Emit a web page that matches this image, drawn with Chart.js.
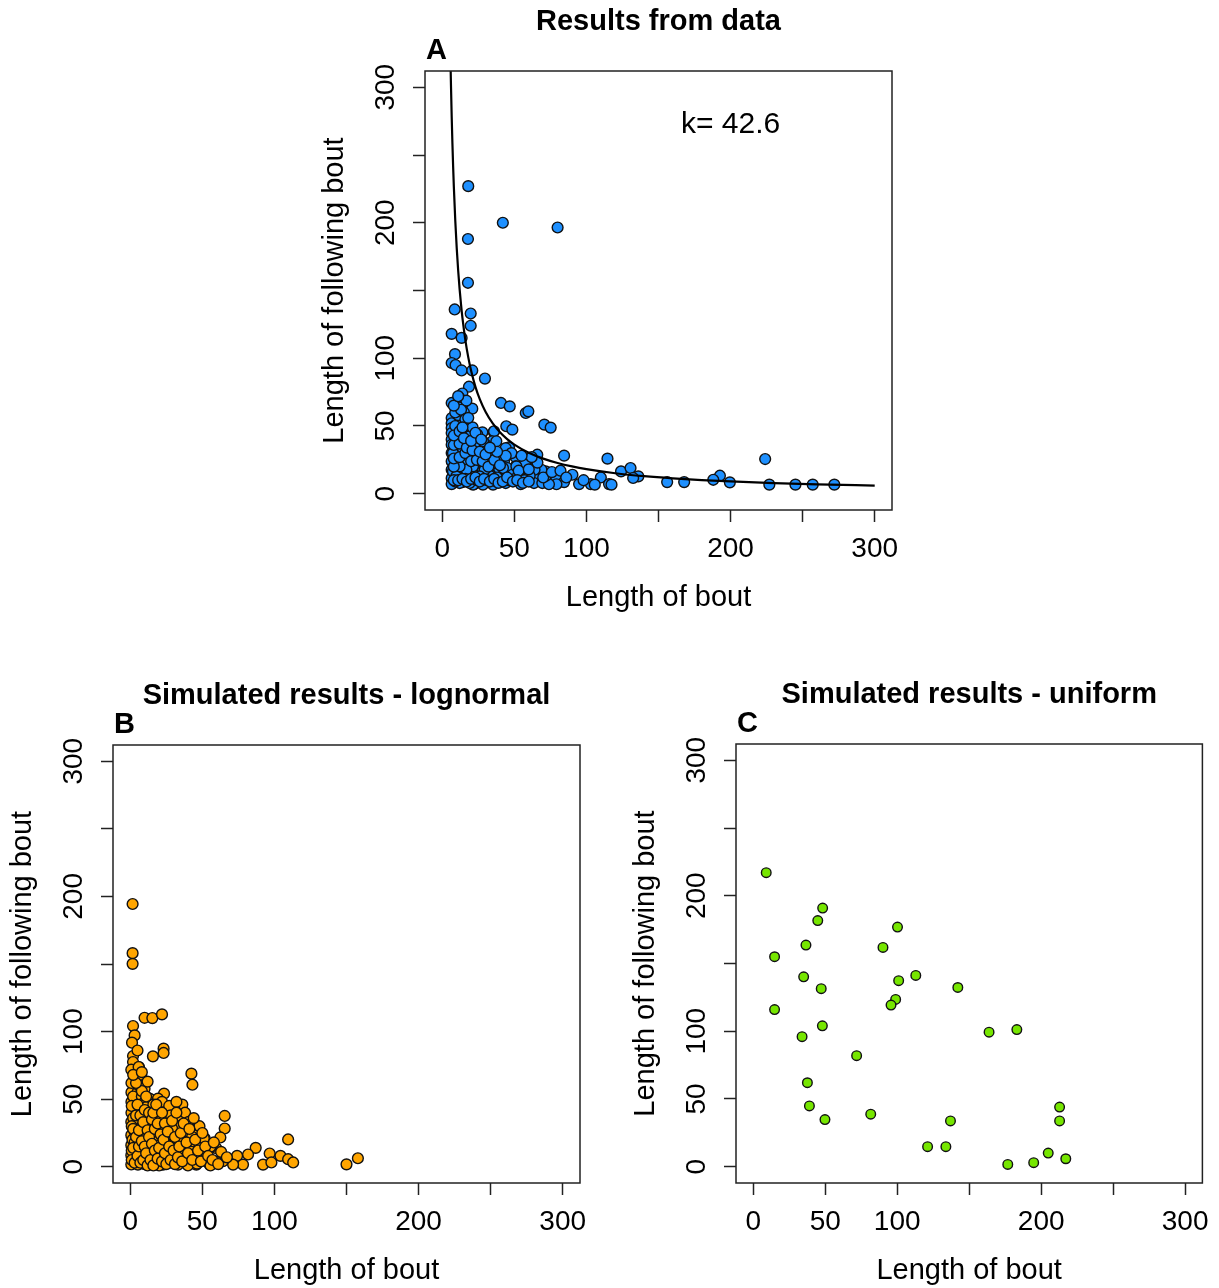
<!DOCTYPE html>
<html>
<head>
<meta charset="utf-8">
<script src="https://cdn.jsdelivr.net/npm/chart.js@4/dist/chart.umd.min.js"></script>
<style>
  html, body { margin: 0; padding: 0; background: #fff; }
  #page { position: relative; width: 1219px; height: 1288px; background: #fff; overflow: hidden; }
  canvas { position: absolute; }
</style>
</head>
<body>
<div id="page">
  <canvas id="panelA" width="640" height="640" style="left:300px;top:0px"></canvas>
  <canvas id="panelB" width="620" height="628" style="left:0px;top:660px"></canvas>
  <canvas id="panelC" width="599" height="628" style="left:620px;top:660px"></canvas>
</div>
<script>
// ---- axis ticks shared by the three panels ----
const tickValues = [0, 50, 100, 150, 200, 250, 300];
const tickText   = ['0', '50', '100', '', '200', '', '300'];
const xTitle = 'Length of bout';
const yTitle = 'Length of following bout';

// ---- panel A: observed bouts (length, length of following bout) ----
const observedPairs = [
  [18,227],[42,200],[80,196.5],[17.8,188],[17.8,155.7],[8.6,136],[19.7,133],[19.7,124],[6.5,118],[13.4,115],
  [8.8,103],[6.5,96.5],[9.2,95],[13.4,91],[20.8,91],[29.6,85],[18.5,79],[13.9,74],[12,70.7],[16.2,68.2],
  [6.5,67],[11.6,63.6],[20.8,62.8],[8.8,57.6],[12.7,54.7],[13.4,53.4],[6.5,55.9],[6.5,52],[6.5,48.5],[6.5,44.8],
  [6.5,40],[6.5,36.2],[6.5,30],[6.5,23.9],[6.5,17.7],[6.5,11.5],[6.5,7.1],[18,47.3],[13.9,47.3],[24.1,43.6],
  [27.8,45.3],[35.6,45.6],[35.9,46.1],[34.7,38.7],[10.9,39.9],[13.4,41.1],[18.5,42.4],[24.3,43.6],[19.6,36.2],[25.4,33.7],
  [30.1,36.2],[24.8,33.7],[40.7,67],[46.8,64.5],[57.9,59.6],[59.7,60.8],[44.4,49.8],[48.6,47.3],[70.8,51],[75.2,48.8],
  [46.3,34.2],[44,33.7],[32.4,28.8],[27.8,28.8],[22.7,27.5],[15,26.3],[10.4,31.2],[10.4,23.9],[15,21.4],[19.6,20.2],
  [24.3,21.4],[30.1,22.7],[35.9,20.9],[42.8,23.9],[50.9,26.9],[57.4,22.7],[65.9,28.8],[84.5,28.1],[114.6,25.9],[64.8,20.2],
  [50.9,20.2],[45.1,19],[39.3,16.5],[33.5,14],[27.8,16.5],[22,14],[16.2,15.3],[10.4,14],[13.9,8.6],[22,7.1],
  [27.8,7.9],[35.9,7.9],[44,7.9],[48.6,14],[55.5,14],[61.3,14],[67.1,12.8],[71.7,16.5],[78.7,12.8],[84.5,8.6],
  [90.3,14],[94.9,7.1],[103,7.1],[110,12],[115.7,7.1],[54.4,7.1],[63.6,7.9],[69.4,7.9],[124,16.5],[130.6,19],
  [136,12.8],[132.4,11.6],[224,25.6],[192.6,13.3],[188,10.3],[199.5,8.4],[156,8.6],[167.8,8.6],[226.9,6.7],[245,6.7],
  [257,6.7],[272,6.7],[117.4,6.7],[105.8,6.7],[79.2,7],[74,7],[72,13.3],[68.8,17.7],[64,17.7],[60.6,13.3],
  [52.5,13.3],[43.3,13.3],[32.9,13.3],[51.4,20.2],[42.1,19],[29.4,17.7],[25.9,25.1],[20.1,27.6],[32.9,27.6],[30.6,32.5],
  [37.5,38.7],[28.2,38.7],[19,42.4],[14.4,32.5],[7.4,30],[14.4,23.9],[7.4,16.5],[12,7.9],[21.3,6.7],[28.2,6.7],
  [35.2,6.7],[37.5,9.1],[9.7,12.8],[21.3,20.2],[16.7,17.7],[12,20.2],[25.9,12.8],[19,7.9],[9,9],[16,11],
  [24,10],[31,10],[41,11],[8,20],[10,45],[9,50],[11,58],[15,60],[16.7,68.7],[16,50],
  [21,49],[23,38],[40,25],[48,30],[53,17],[57,10],[46,10],[38,12],
  [8,10],[11,10],[14,11],[17,9],[20,11],[23,12],[26,9],[29,11],[33,9],[36,11],
  [39,8],[42,9],[45,12],[49,9],[52,10],[56,8],[60,9],[8,26],[12,27],[16,30],
  [20,24],[24,25],[28,24],[32,20],[36,25],[40,21],[44,28],[8,36],[12,37],[17,34],
  [21,32],[26,31],[30,29],[8,43],[12,46],[15,41],[20,39],[23,45],[9,60],[13,62],
  [16,55],[8,65],[11,72],[14,49],[18,56],[60,18],[66,23],[70,12],[76,16],[82,17],
  [86,12],[98,10],[62,27],[55,28],[38,31],[33,34],[27,40]
];

// fitted curve: following = k^2 / bout, with k as printed on the panel
const fitK = 42.6;
const curveBout = [5.5, 5.8, 6, 6.5, 7, 7.5, 8, 9, 10, 11, 12, 13, 14, 16, 18, 20, 23, 26, 30, 35, 40, 45,
                   50, 60, 70, 80, 90, 100, 120, 140, 160, 180, 200, 230, 260, 300];

// ---- panel B: simulated bouts, lognormal ----
const lognormalPairs = [
  [1.6,194.4],[1.6,158],[1.6,150.1],[9.9,110.2],[15.3,110],[22,112.7],[1.9,104.1],[3,97.2],[1.2,91.8],[23.1,87.4],
  [23.1,84.2],[15.7,81.7],[1.9,81.9],[1.9,77.5],[0.7,71.8],[6,73.8],[3,65.2],[7.6,65.9],[9.9,61],[42.4,68.9],
  [43.1,60.7],[5.8,73.8],[3,58.3],[9.9,57.8],[23.4,54.1],[13.4,50.4],[19.2,50.4],[36.1,46],[30.8,41.9],[25,40.6],
  [14.6,43.1],[3,40.6],[6.5,35.7],[12.3,36.9],[18.1,32],[25,34.5],[33.1,35.7],[65.5,37.6],[65.5,28.3],[40.7,33.2],
  [43.1,28.3],[62.5,21.7],[51.6,21],[45.8,23.4],[109.5,20.2],[87,14],[96.7,9.8],[104.2,8.1],[109.5,5.6],[113,3.2],
  [92.1,1.6],[97.9,3.2],[81.7,9.1],[74.1,8.1],[78.2,1.6],[71.3,1.6],[64.3,4.1],[150,1.8],[157.9,6.3],[59.7,13.7],
  [56.3,14.8],[50.5,7.4],[43.5,16],[37.7,14.8],[31.9,11.1],[25,13.5],[20.4,18.4],[13.4,19.7],[7.6,23.4],[4.2,29.5],
  [0.7,33.2],[0.7,23.4],[0.7,16],[0.7,8.6],[0.7,1.7],[5.3,1.6],[9.9,8.6],[15.7,4.9],[22.7,1.6],[33.1,1.6],
  [38.9,4.9],[45.8,1.6],[55.1,1.6],[59.7,3.6],[18.1,23.4],[28.5,21],[36.6,21],[42.4,11.1],[0.8,48],[0.8,55],
  [0.8,62],[0.8,40],[2,45],[4,50],[5,55],[2,52],[7,46],[8,52],[10,48],[6,42],
  [9,40],[11,44],[16,46],[17,38],[20,44],[22,48],[27,45],[28,38],[21,36],[14,30],
  [10,28],[3,26],[6,20],[11,24],[16,26],[23,28],[30,28],[34,30],[38,26],[29,16],
  [33,20],[26,8],[19,10],[14,14],[8,14],[3,12],[4,4],[10,2],[12,6],[18,4],
  [20,1],[27,3],[30,6],[35,9],[41,6],[46,10],[48,15],[53,4],[40,1],[24,18],
  [2,36],[5,32],[8,30],[12,33],[1.5,20],[3,18],[2.5,6],[7,9],[15,9],[22,12],
  [48,30],[38,40],[32,48],[29,28.3],[42.9,22.2],[55.6,14.8],[51,21],[40.5,33.2],[46.3,2.3],[55.6,1],
  [1,45],[1,30],[1,12],[1,5],[2,28],[2,14],[3,3],[4,22],[4,38],[5,8],
  [5,46],[6,15],[6,27],[6,60],[7,3],[7,38],[8,19],[8,56],[9,5],[9,33],
  [10,15],[10,42],[11,10],[11,52],[12,1],[12,27],[13,22],[13,40],[14,5],[15,35],
  [15,17],[16,1],[16,40],[17,12],[17,28],[18,46],[19,6],[19,32],[20,14],[21,24],
  [22,4],[22,40],[23,20],[24,32],[24,10],[25,2],[26,26],[27,15],[28,5],[29,34],
  [30,12],[31,22],[31,2],[32,40],[33,7],[34,15],[35,25],[36,4],[37,32],[39,18],
  [40,10],[41,28],[43,5],[44,36],[45,20],[47,12],[49,4],[50,25],[52,15],[54,8],
  [57,5],[58,18],[61,2],[63,11],[67,7],[4,62],[2,68],[8,70],[12,63],[5,86]
];

// ---- panel C: simulated bouts, uniform ----
const uniformPairs = [
  [9,217],[48.2,190.9],[44.8,181.7],[36.6,163.6],[14.8,155],[90.1,161.9],[100.2,176.9],[35,140.2],[47.2,131.4],[101,137.3],
  [112.9,141.2],[142.1,132.3],[98.9,123.5],[95.7,119.3],[14.8,116],[48,104],[33.9,96],[163.8,99.3],[183.1,101.2],[71.8,82],
  [37.6,62],[39,44.9],[49.8,34.8],[81.6,38.8],[137,33.8],[121.1,14.8],[133.8,14.8],[212.8,44],[212.8,33.8],[176.8,1.7],
  [194.8,3],[204.9,10.1],[217.1,5.9]
];

const FONT = '"Liberation Sans", Arial, Helvetica, sans-serif';
const toXY = pairs => pairs.map(([x, y]) => ({ x, y }));

// frame, rotated y labels, axis titles, panel title and letter
const panelText = {
  id: 'panelText',
  afterDraw(chart, args, opts) {
    const { ctx, chartArea: a, scales: { x, y } } = chart;
    const cx = (a.left + a.right) / 2;
    const cy = (a.top + a.bottom) / 2;
    ctx.save();
    ctx.strokeStyle = '#222';
    ctx.lineWidth = 1.5;
    ctx.strokeRect(a.left, a.top, a.right - a.left, a.bottom - a.top);

    ctx.fillStyle = '#000';
    ctx.textAlign = 'center';
    ctx.textBaseline = 'middle';
    ctx.font = '28px ' + FONT;
    tickValues.forEach((v, i) => {
      if (!tickText[i]) return;
      ctx.save();
      ctx.translate(a.left - 39, y.getPixelForValue(v));
      ctx.rotate(-Math.PI / 2);
      ctx.fillText(tickText[i], 0, 0);
      ctx.restore();
    });

    ctx.font = '29px ' + FONT;
    ctx.fillText(xTitle, cx, a.bottom + 88);
    ctx.save();
    ctx.translate(a.left - 90, cy);
    ctx.rotate(-Math.PI / 2);
    ctx.fillText(yTitle, 0, 0);
    ctx.restore();

    if (opts.note) {
      ctx.font = '30px ' + FONT;
      ctx.fillText(opts.note.text, x.getPixelForValue(opts.note.x), y.getPixelForValue(opts.note.y));
    }

    ctx.font = 'bold 29px ' + FONT;
    ctx.textBaseline = 'alphabetic';
    ctx.fillText(opts.title, cx, a.top - 41);
    ctx.textAlign = 'left';
    ctx.fillText(opts.letter, a.left + 1, a.top - 12);
    ctx.restore();
  }
};

function axis(isX, size) {
  return {
    type: 'linear',
    min: -12,
    max: 312,
    afterBuildTicks: s => { s.ticks = tickValues.map(v => ({ value: v })); },
    afterFit: s => { if (isX) s.height = size; else s.width = size; },
    grid: { display: true, drawOnChartArea: false, drawTicks: true, tickLength: 12, tickWidth: 1.5, tickColor: '#222' },
    border: { display: false },
    ticks: {
      display: isX,
      autoSkip: false, maxRotation: 0, minRotation: 0, padding: 10,
      color: '#000',
      font: { family: FONT, size: 28 },
      callback: v => tickText[tickValues.indexOf(v)]
    }
  };
}

function makePanel(id, p) {
  return new Chart(document.getElementById(id), {
    type: 'scatter',
    data: { datasets: p.datasets },
    options: {
      responsive: false,
      animation: false,
      devicePixelRatio: 1,
      layout: { padding: { top: p.top, right: p.right, left: 0, bottom: 0 } },
      plugins: {
        legend: { display: false },
        tooltip: { enabled: false },
        panelText: { title: p.title, letter: p.letter, note: p.note }
      },
      scales: { x: axis(true, p.xHeight), y: axis(false, p.yWidth) }
    },
    plugins: [panelText]
  });
}

function pointSet(pairs, fill, r) {
  return {
    data: toXY(pairs),
    backgroundColor: fill,
    borderColor: '#111',
    borderWidth: 1.4,
    pointRadius: r,
    pointHoverRadius: r,
    order: 1
  };
}

makePanel('panelA', {
  title: 'Results from data', letter: 'A',
  note: { text: 'k= ' + fitK, x: 200, y: 272 },
  top: 71, right: 48, yWidth: 125, xHeight: 130,
  datasets: [
    pointSet(observedPairs, '#1E90FF', 5.4),
    {
      type: 'line',
      data: curveBout.map(b => ({ x: b, y: fitK * fitK / b })),
      borderColor: '#000',
      borderWidth: 2.2,
      pointRadius: 0,
      fill: false,
      cubicInterpolationMode: 'monotone',
      order: 0
    }
  ]
});

makePanel('panelB', {
  title: 'Simulated results - lognormal', letter: 'B',
  top: 85, right: 40, yWidth: 113, xHeight: 105,
  datasets: [pointSet(lognormalPairs, '#FFA500', 5.4)]
});

makePanel('panelC', {
  title: 'Simulated results - uniform', letter: 'C',
  top: 84, right: 14, yWidth: 116, xHeight: 105,
  datasets: [pointSet(uniformPairs, '#76E600', 4.8)]
});
</script>
</body>
</html>
